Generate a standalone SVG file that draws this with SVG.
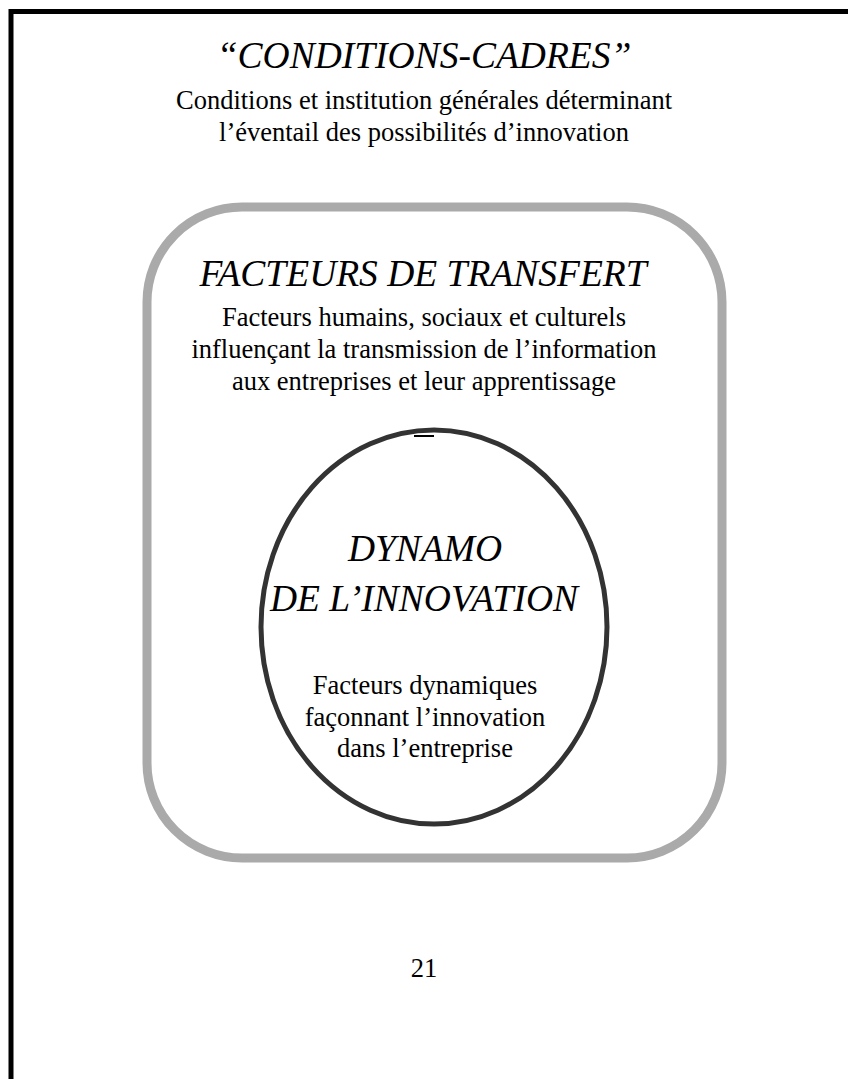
<svg xmlns="http://www.w3.org/2000/svg" width="848" height="1079" viewBox="0 0 848 1079">
<style>
.t{font-family:'Liberation Serif',serif;font-style:italic;font-size:37.5px;text-anchor:middle;fill:#000}
.s{font-family:'Liberation Serif',serif;font-size:26.5px;text-anchor:middle;fill:#000}
</style>
<rect x="0" y="0" width="848" height="1079" fill="#fff"/>
<path d="M11,1079 V11.5 H848" fill="none" stroke="#000" stroke-width="5"/>
<g id="conditions-cadres">
<text class="t" x="424" y="68">“CONDITIONS-CADRES”</text>
<text class="s" x="424" y="109">Conditions et institution générales déterminant</text>
<text class="s" x="424" y="141">l’éventail des possibilités d’innovation</text>
</g>
<g id="facteurs-transfert">
<rect x="147" y="207" width="575" height="651" rx="95" ry="95" fill="none" stroke="#aaa" stroke-width="9"/>
<text class="t" x="423" y="286">FACTEURS DE TRANSFERT</text>
<text class="s" x="424" y="326">Facteurs humains, sociaux et culturels</text>
<text class="s" x="424" y="358">influençant la transmission de l’information</text>
<text class="s" x="424" y="390">aux entreprises et leur apprentissage</text>
</g>
<g id="dynamo">
<ellipse cx="434" cy="627" rx="173" ry="197" fill="none" stroke="#333" stroke-width="5"/>
<line x1="414" y1="436" x2="434" y2="436" stroke="#000" stroke-width="2"/>
<text class="t" x="425" y="561">DYNAMO</text>
<text class="t" x="424" y="611">DE L’INNOVATION</text>
<text class="s" x="425" y="694">Facteurs dynamiques</text>
<text class="s" x="425" y="726">façonnant l’innovation</text>
<text class="s" x="425" y="757">dans l’entreprise</text>
</g>
<g id="connectors"></g>
<text class="s" x="424" y="977">21</text>
</svg>
